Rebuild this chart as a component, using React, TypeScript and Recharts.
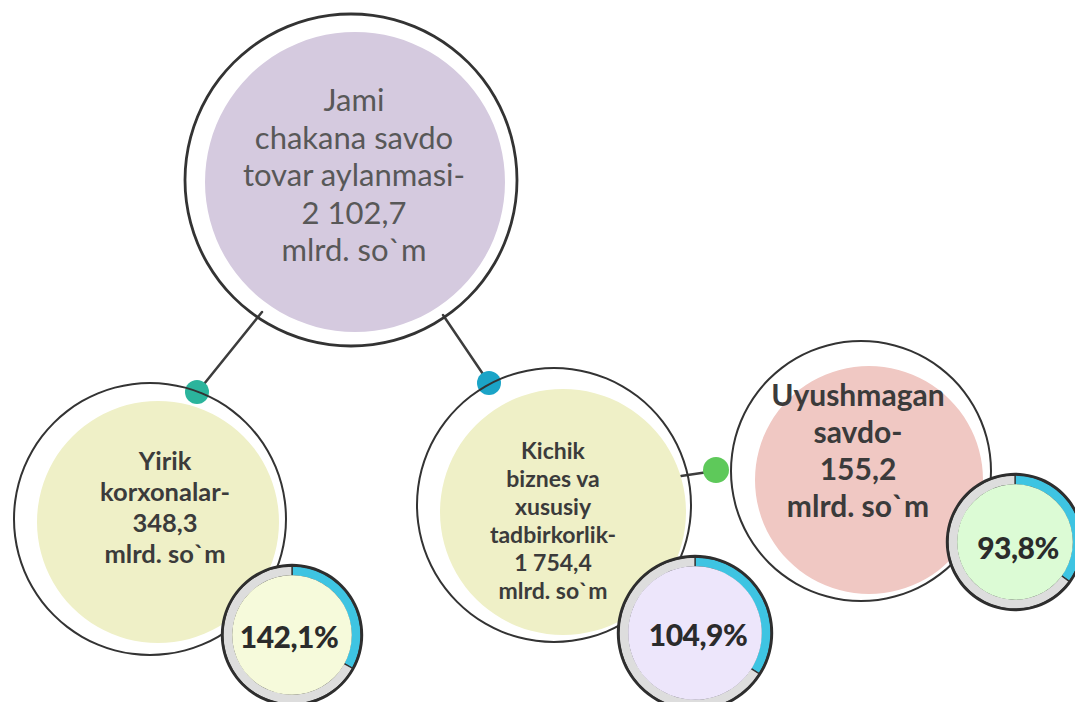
import { PieChart, Pie, Cell, Customized } from "recharts";

// values
const nodeTitles = [
  ["Jami", "chakana savdo", "tovar aylanmasi-"],
  ["Yirik", "korxonalar-"],
  ["Kichik", "biznes va", "xususiy", "tadbirkorlik-"],
  ["Uyushmagan", "savdo-"],
];
const nodeValues = [2102.7, 348.3, 1754.4, 155.2];
const unitLabel = "mlrd. so`m";
const growthPct = [142.1, 104.9, 93.8];
// share of the progress ring painted blue (decorative)
const growthArc = [0.33, 0.34, 0.35];

// layout
const W = 1075;
const H = 702;
const big = [
  { cx: 351, cy: 180, r: 166, w: 2.8, fx: 355, fy: 182, fr: 150, fill: "#d5cadf" },
  { cx: 150, cy: 519, r: 136, w: 2, fx: 158, fy: 522, fr: 121, fill: "#eff0c7" },
  { cx: 554, cy: 505, r: 137, w: 2, fx: 563, fy: 512, fr: 123, fill: "#eff0c7" },
  { cx: 861, cy: 471, r: 130, w: 2, fx: 869, fy: 480, fr: 114, fill: "#f0c8c3" },
];
const textBoxes = [
  { x: 354, y: 175, size: 31, weight: 400, lh: 37.5, color: "#585858" },
  { x: 165, y: 507, size: 25.5, weight: 700, lh: 31, color: "#3b3b3b" },
  { x: 553, y: 520, size: 23, weight: 700, lh: 28, color: "#3b3b3b" },
  { x: 858, y: 450, size: 30, weight: 700, lh: 37, color: "#3b3b3b" },
];
const rings = [
  { cx: 292, cy: 635, r: 70, fill: "#f6fadb", tx: 289, ty: 636 },
  { cx: 695, cy: 633, r: 77, fill: "#ede6fb", tx: 698, ty: 634 },
  { cx: 1015, cy: 542, r: 68, fill: "#dcfbd5", tx: 1018, ty: 547 },
];
const links = [
  { x1: 262, y1: 312, x2: 200, y2: 389 },
  { x1: 443, y1: 315, x2: 487, y2: 380 },
  { x1: 681, y1: 476, x2: 708, y2: 472 },
];
const dots = [
  { x: 197, y: 392, r: 12, fill: "#2bb49c" },
  { x: 489, y: 383, r: 12, fill: "#1ba4c7" },
  { x: 716, y: 470, r: 13, fill: "#5ec95a" },
];

const fmtNum = (v: number) => {
  const [i, d] = v.toFixed(1).split(".");
  return i.replace(/\B(?=(\d{3})+(?!\d))/g, " ") + "," + d;
};

const FONT = "Lato, 'Noto Sans', sans-serif";

export default function App() {
  return (
    <div style={{ position: "absolute", left: 0, top: 0, width: W, height: H, background: "#fff" }}>
      <PieChart width={W} height={H} margin={{ top: 0, right: 0, bottom: 0, left: 0 }}>
        <Customized
          component={() => (
            <g>
              {links.map((l, i) => (
                <line key={i} {...l} stroke="#3d3d3d" strokeWidth={2.5} strokeLinecap="round" />
              ))}
            </g>
          )}
        />
        {big.map((b, i) => [
          <Pie
            key={`f${i}`}
            data={[{ name: nodeTitles[i].join(" "), value: nodeValues[i] }]}
            dataKey="value"
            cx={b.fx}
            cy={b.fy}
            innerRadius={0}
            outerRadius={b.fr}
            startAngle={90}
            endAngle={-270}
            fill={b.fill}
            stroke="none"
            isAnimationActive={false}
          />,
          <Pie
            key={`o${i}`}
            data={[{ name: nodeTitles[i].join(" "), value: nodeValues[i] }]}
            dataKey="value"
            cx={b.cx}
            cy={b.cy}
            innerRadius={b.r - b.w / 2}
            outerRadius={b.r + b.w / 2}
            startAngle={90}
            endAngle={-270}
            fill="#333"
            stroke="none"
            isAnimationActive={false}
          />,
        ])}
        {rings.map((g, i) => [
          <Pie
            key={`b${i}`}
            data={[
              { name: "arc", value: growthArc[i] },
              { name: "rest", value: 1 - growthArc[i] },
            ]}
            dataKey="value"
            cx={g.cx}
            cy={g.cy}
            innerRadius={g.r - 11}
            outerRadius={g.r - 1}
            startAngle={90}
            endAngle={-270}
            stroke="#333"
            strokeWidth={1.3}
            isAnimationActive={false}
          >
            <Cell fill="#3ec4e2" />
            <Cell fill="#dddddd" />
          </Pie>,
          <Pie
            key={`i${i}`}
            data={[{ name: "pct", value: growthPct[i] }]}
            dataKey="value"
            cx={g.cx}
            cy={g.cy}
            innerRadius={0}
            outerRadius={g.r - 10.2}
            startAngle={90}
            endAngle={-270}
            fill={g.fill}
            stroke="none"
            isAnimationActive={false}
          />,
          <Pie
            key={`r${i}`}
            data={[{ name: "pct", value: growthPct[i] }]}
            dataKey="value"
            cx={g.cx}
            cy={g.cy}
            innerRadius={g.r - 1.5}
            outerRadius={g.r + 1.2}
            startAngle={90}
            endAngle={-270}
            fill="#2e2e2e"
            stroke="none"
            isAnimationActive={false}
          />,
        ])}
        <Customized
          component={() => (
            <g>
              {dots.map((d, i) => (
                <circle key={i} cx={d.x} cy={d.y} r={d.r} fill={d.fill} />
              ))}
            </g>
          )}
        />
      </PieChart>

      {textBoxes.map((t, i) => (
        <div
          key={i}
          style={{
            position: "absolute",
            left: t.x,
            top: t.y,
            transform: "translate(-50%, -50%)",
            textAlign: "center",
            whiteSpace: "nowrap",
            fontFamily: FONT,
            fontSize: t.size,
            fontWeight: t.weight,
            lineHeight: `${t.lh}px`,
            color: t.color,
            pointerEvents: "none",
          }}
        >
          {[...nodeTitles[i], fmtNum(nodeValues[i]), unitLabel].map((line, j) => (
            <div key={j}>{line}</div>
          ))}
        </div>
      ))}

      {rings.map((g, i) => (
        <div
          key={i}
          style={{
            position: "absolute",
            left: g.tx,
            top: g.ty,
            transform: "translate(-50%, -50%)",
            whiteSpace: "nowrap",
            fontFamily: FONT,
            fontSize: 30,
            fontWeight: 900,
            letterSpacing: -0.5,
            color: "#2b2b2b",
            pointerEvents: "none",
          }}
        >
          {fmtNum(growthPct[i])}%
        </div>
      ))}
    </div>
  );
}
